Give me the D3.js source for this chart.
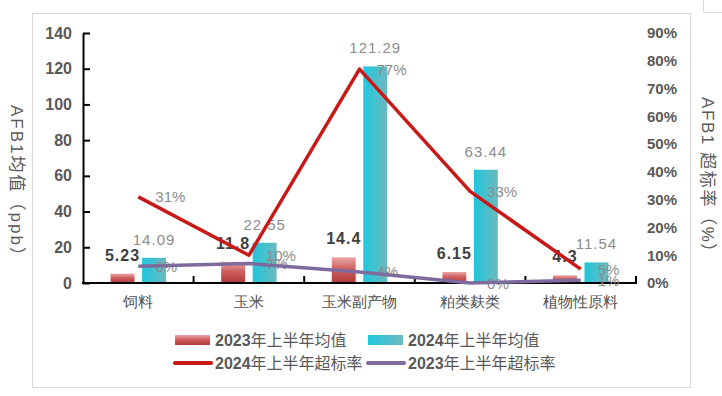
<!DOCTYPE html>
<html>
<head>
<meta charset="utf-8">
<script src="https://cdn.jsdelivr.net/npm/d3@7/dist/d3.min.js"></script>
<style>
  body { margin: 0; background: #fff; }
  svg { display: block; font-family: "Liberation Sans", Arial, "Noto Sans CJK SC", sans-serif; }
</style>
</head>
<body>
<svg width="722" height="396"></svg>
<script>
const categories = ["饲料", "玉米", "玉米副产物", "粕类麸类", "植物性原料"];
const mean2023 = [5.23, 11.8, 14.4, 6.15, 4.3];
const mean2024 = [14.09, 22.55, 121.29, 63.44, 11.54];
const rate2024 = [0.31, 0.10, 0.77, 0.33, 0.05];
const rate2023 = [0.06, 0.07, 0.04, 0.00, 0.01];
const leftTicks = [0, 20, 40, 60, 80, 100, 120, 140];
const rightTicks = [0, 0.1, 0.2, 0.3, 0.4, 0.5, 0.6, 0.7, 0.8, 0.9];

const svg = d3.select("svg");
const defs = svg.append("defs");

const g23 = defs.append("linearGradient").attr("id", "g23")
    .attr("x1", 0).attr("y1", 0).attr("x2", 0).attr("y2", 1);
g23.append("stop").attr("offset", "0").attr("stop-color", "#eca7a7");
g23.append("stop").attr("offset", "0.45").attr("stop-color", "#cf5f5f");
g23.append("stop").attr("offset", "1").attr("stop-color", "#b13a3a");

const g24 = defs.append("linearGradient").attr("id", "g24")
    .attr("x1", 0).attr("y1", 0).attr("x2", 1).attr("y2", 0);
g24.append("stop").attr("offset", "0").attr("stop-color", "#1fc7de");
g24.append("stop").attr("offset", "1").attr("stop-color", "#6db9bd");

// frames
svg.append("rect").attr("x", 32.5).attr("y", 13.5).attr("width", 658).attr("height", 374)
    .attr("fill", "none").attr("stroke", "#d9d9d9");
svg.append("path").attr("d", "M703.5,0V12.5H722").attr("fill", "none").attr("stroke", "#d9d9d9");

const x = d3.scaleBand().domain(categories).range([83, 636]);
const x1 = d3.scaleBand().domain(["2023", "2024"]).range([-27.75, 27.75]).paddingInner(0.24);
const y = d3.scaleLinear().domain([0, 140]).range([283, 33]);
const y2 = d3.scaleLinear().domain([0, 0.9]).range([283, 33]);
const cx = c => x(c) + x.bandwidth() / 2;

// bars
const bars = svg.append("g");
categories.forEach((c, i) => {
    bars.append("rect")
        .attr("x", cx(c) + x1("2023")).attr("width", x1.bandwidth())
        .attr("y", y(mean2023[i])).attr("height", y(0) - y(mean2023[i]))
        .attr("fill", "url(#g23)");
    bars.append("rect")
        .attr("x", cx(c) + x1("2024")).attr("width", x1.bandwidth())
        .attr("y", y(mean2024[i])).attr("height", y(0) - y(mean2024[i]))
        .attr("fill", "url(#g24)");
});

// left axis
const ya = svg.append("g").attr("transform", "translate(83,0)")
    .call(d3.axisLeft(y).tickValues(leftTicks).tickSize(-7).tickPadding(11).tickSizeOuter(0));
ya.select(".domain").attr("stroke", "#000").attr("stroke-width", 2);
ya.selectAll(".tick line").attr("stroke", "#000").attr("stroke-width", 2);
ya.selectAll(".tick text").attr("font-size", 16).attr("font-weight", "bold").attr("fill", "#595959")
    .attr("font-family", "Liberation Sans, Arial, sans-serif");

// right axis
const yb = svg.append("g").attr("transform", "translate(636,0)")
    .call(d3.axisRight(y2).tickValues(rightTicks).tickSize(0).tickPadding(11).tickFormat(d3.format(".0%")));
yb.select(".domain").remove();
yb.selectAll(".tick text").attr("font-size", 15).attr("font-weight", "bold").attr("fill", "#595959")
    .attr("font-family", "Liberation Sans, Arial, sans-serif");

// bottom axis
const xa = svg.append("g").attr("transform", "translate(0,283)")
    .call(d3.axisBottom(x).tickSize(0).tickPadding(13));
xa.select(".domain").remove();
xa.selectAll(".tick text").attr("font-size", 15).attr("fill", "#505050");
svg.append("line").attr("x1", 82).attr("x2", 637).attr("y1", 283).attr("y2", 283)
    .attr("stroke", "#000").attr("stroke-width", 2);
categories.map(c => x(c) + x.bandwidth()).forEach(bx => {
    svg.append("line").attr("x1", bx).attr("x2", bx).attr("y1", 283).attr("y2", 276)
        .attr("stroke", "#000").attr("stroke-width", 2);
});

// axis titles
svg.append("text").attr("transform", "translate(11,105) rotate(90)")
    .attr("font-size", 17).attr("fill", "#595959").attr("letter-spacing", 2)
    .text("AFB1均值（ppb）");
svg.append("text").attr("transform", "translate(702,97) rotate(90)")
    .attr("font-size", 17).attr("fill", "#595959").attr("letter-spacing", 1.6)
    .text("AFB1 超标率（%）");

// value labels
const labels = svg.append("g").attr("text-anchor", "middle");
categories.forEach((c, i) => {
    labels.append("text")
        .attr("x", cx(c) + x1("2023") + x1.bandwidth() / 2)
        .attr("y", y(mean2023[i]) - 13)
        .attr("font-size", 16).attr("font-weight", "bold").attr("letter-spacing", 1)
        .attr("fill", "#404040").text(mean2023[i]);
    labels.append("text")
        .attr("x", cx(c) + x1("2024") + x1.bandwidth() / 2)
        .attr("y", y(mean2024[i]) - 13)
        .attr("font-size", 15).attr("letter-spacing", 1)
        .attr("fill", "#8c8c8c").text(mean2024[i]);
});

// rate labels
const pct = d3.format(".0%");
[rate2024, rate2023].forEach(rates => {
    categories.forEach((c, i) => {
        labels.append("text")
            .attr("x", cx(c) + 17).attr("y", y2(rates[i]) + 5.5)
            .attr("text-anchor", "start")
            .attr("font-size", 15).attr("fill", "#8c8c8c").text(pct(rates[i]));
    });
});

// lines
const line = d3.line().x((d, i) => cx(categories[i])).y(d => y2(d));
svg.append("path").datum(rate2023).attr("d", line)
    .attr("fill", "none").attr("stroke", "#7c6b9c").attr("stroke-width", 3.5).attr("stroke-linejoin", "round");
svg.append("path").datum(rate2024).attr("d", line)
    .attr("fill", "none").attr("stroke", "#c81818").attr("stroke-width", 3.5).attr("stroke-linejoin", "round");

// legend
const legend = svg.append("g").attr("font-size", 16).attr("fill", "#595959");
const items = [
    { x: 175, y: 340, label: ["2023", "年上半年均值"], type: "rect", fill: "url(#g23)" },
    { x: 368, y: 340, label: ["2024", "年上半年均值"], type: "rect", fill: "url(#g24)" },
    { x: 175, y: 363, label: ["2024", "年上半年超标率"], type: "line", fill: "#c81818" },
    { x: 368, y: 363, label: ["2023", "年上半年超标率"], type: "line", fill: "#7c6b9c" }
];
items.forEach(it => {
    if (it.type === "rect") {
        legend.append("rect").attr("x", it.x).attr("y", it.y - 5).attr("width", 35).attr("height", 10)
            .attr("fill", it.fill);
    } else {
        legend.append("line").attr("x1", it.x).attr("x2", it.x + 36).attr("y1", it.y).attr("y2", it.y)
            .attr("stroke", it.fill).attr("stroke-width", 4).attr("stroke-linecap", "round");
    }
    const t = legend.append("text").attr("x", it.x + 40).attr("y", it.y + 6);
    t.append("tspan").attr("font-weight", "bold").text(it.label[0]);
    t.append("tspan").text(it.label[1]);
});
</script>
</body>
</html>
